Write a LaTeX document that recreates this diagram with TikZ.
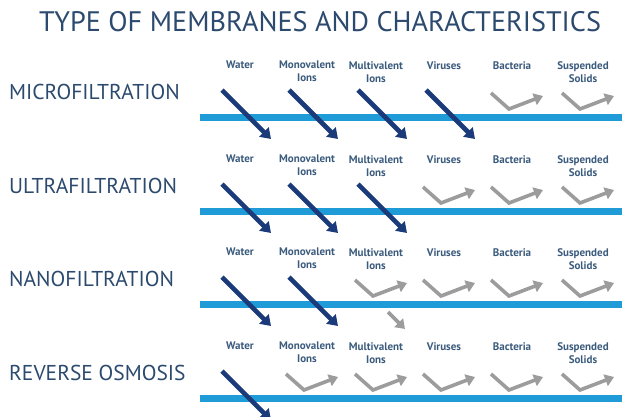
\documentclass[tikz,border=0pt]{standalone}
\usepackage{fontspec}
\setmainfont{PT Sans}
\usetikzlibrary{arrows.meta}
\definecolor{titleblue}{HTML}{2C4A6E}
\definecolor{headblue}{HTML}{3B5B7D}
\definecolor{arrowblue}{HTML}{1B3A7A}
\definecolor{arrowgray}{HTML}{9C9C9C}
\definecolor{membraneblue}{HTML}{1F9BD7}

\begin{document}
\begin{tikzpicture}[x=1pt,y=-1pt,
  membrane/.style={draw=membraneblue,line width=7pt},
  passarrow/.style={draw=arrowblue,line width=4.6pt,-{Triangle[length=10pt,width=13pt]}},
  rejectarrow/.style={draw=arrowgray,line width=3.6pt,line join=miter,-{Triangle[length=9pt,width=12pt]}},
  header/.style={font=\bfseries\fontsize{11}{13}\selectfont,text=headblue,align=center,anchor=north,inner sep=0pt},
  rowlabel/.style={font=\fontsize{21.5}{24}\selectfont,text=titleblue,anchor=west,inner sep=0pt}]
\useasboundingbox (0,0) rectangle (622,416);
\clip (0,0) rectangle (622,416);
\node[font=\fontsize{28.2}{31}\selectfont,text=titleblue] (title) at (320,22) {TYPE OF MEMBRANES AND CHARACTERISTICS};

% one row per membrane: bar height, name, how many columns pass
\foreach \y/\name/\pass [count=\r] in {117/MICROFILTRATION/4,211/ULTRAFILTRATION/3,304/NANOFILTRATION/2,398/REVERSE OSMOSIS/1}{
  \node[rowlabel] (label\r) at (9,\y-25) {\name};
  \draw[membrane] (200,\y) -- (622,\y);
  \foreach \cx/\head [count=\c] in {240/Water,307/Monovalent\\Ions,376/Multivalent\\Ions,444/Viruses,512/Bacteria,583/Suspended\\Solids}{
    \node[header] (head\r\c) at (\cx,\y-56) {\head};
    \ifnum\c>\pass\relax
      \draw[rejectarrow] (\cx-21,\y-24) -- (\cx-3,\y-8) -- (\cx+31,\y-21);
    \else
      \draw[passarrow] (\cx-18,\y-27) -- (\cx+31,\y+22);
    \fi
  }
}
% part of the multivalent ions still gets through the nanofilter
\draw[rejectarrow] (388,312) -- (405,329);
\end{tikzpicture}
\end{document}
